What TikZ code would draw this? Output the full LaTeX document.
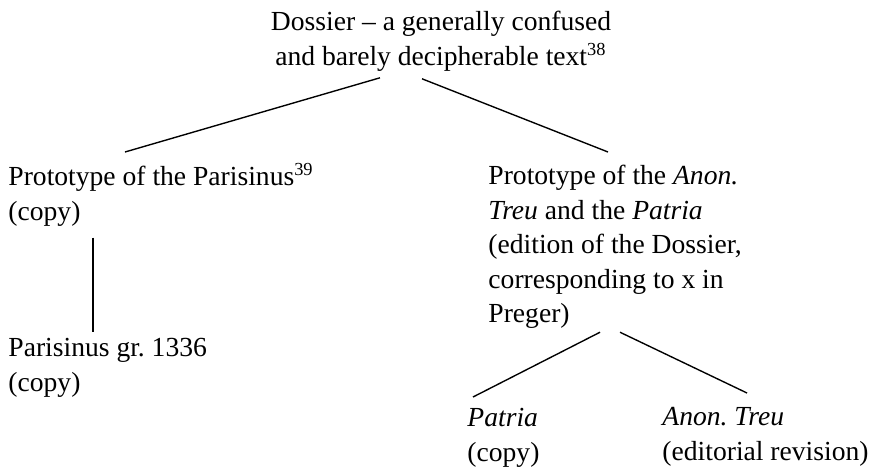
\documentclass[tikz,border=0pt]{standalone}
\usepackage{fontspec}
\setmainfont{Liberation Serif}
\usetikzlibrary{calc}

\begin{document}
\begin{tikzpicture}[
    x=0.435pt, y=-0.435pt,
    txt/.style={inner sep=0pt, align=left, font={\fontsize{12}{15}\selectfont}},
    branch/.style={line width=0.6pt}
]
\useasboundingbox (0,0) rectangle (878,468);

\node[txt, align=center, anchor=north] (dossier) at (441,11) {Dossier -- a generally confused\\and barely decipherable text\textsuperscript{38}};
\node[txt, anchor=north west] (protopar) at (8,163) {Prototype of the Parisinus\textsuperscript{39}\\(copy)};
\node[txt, anchor=north west] (parisinus) at (8,338) {Parisinus gr.\ 1336\\(copy)};
\node[txt, anchor=north west] (protoanon) at (488,165) {Prototype of the \textit{Anon.}\\\textit{Treu} and the \textit{Patria}\\(edition of the Dossier,\\corresponding to x in\\Preger)};
\node[txt, anchor=north west] (patria) at (467,408) {\textit{Patria}\\(copy)};
\node[txt, anchor=north west] (anon) at (662,407) {\textit{Anon.\ Treu}\\(editorial revision)};

\draw[branch] ($(dossier.south)+(-61,6)$) -- ($(protopar.north west)+(117,-11)$);
\draw[branch] ($(dossier.south)+(-19,7)$) -- ($(protoanon.north west)+(120,-13)$);
\draw[branch] ($(protopar.south west)+(85,11)$) -- ($(parisinus.north west)+(85,-6)$);
\draw[branch] ($(protoanon.south west)+(112,3)$) -- ($(patria.north west)+(6,-11)$);
\draw[branch] ($(protoanon.south west)+(132,3)$) -- ($(anon.north west)+(85,-14)$);
\end{tikzpicture}
\end{document}
